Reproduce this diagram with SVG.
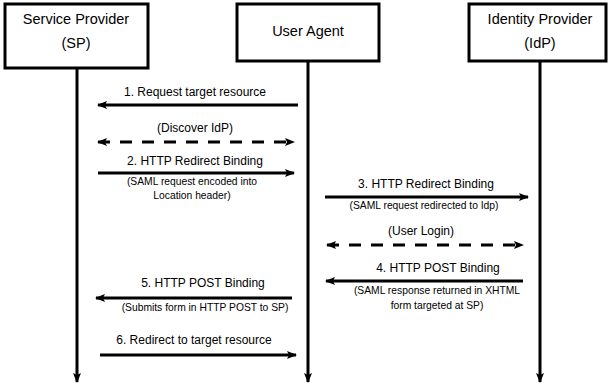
<svg xmlns="http://www.w3.org/2000/svg" width="608" height="391" viewBox="0 0 608 391">
<defs>
<marker id="ah" markerWidth="10" markerHeight="8" refX="9" refY="4" orient="auto-start-reverse" markerUnits="userSpaceOnUse">
<path d="M0,0 L10,4 L0,8 L2,4 Z" fill="#000"/>
</marker>
<style>
.box{fill:#fff;stroke:#000;stroke-width:3}
.life{stroke:#000;stroke-width:3;fill:none}
.msg{stroke:#000;stroke-width:3;fill:none}
.dash{stroke-dasharray:12 10}
.h{font-family:"Liberation Sans",Arial,sans-serif;font-size:14.5px;fill:#000;text-anchor:middle}
.t{font-family:"Liberation Sans",Arial,sans-serif;font-size:12px;fill:#000;text-anchor:middle}
.s{font-family:"Liberation Sans",Arial,sans-serif;font-size:10.3px;fill:#000;text-anchor:middle}
</style>
</defs>
<rect width="608" height="391" fill="#fff"/>
<g id="connectors">
<line class="life" x1="77" y1="68" x2="77" y2="382" marker-end="url(#ah)"/>
<line class="life" x1="308" y1="61" x2="308" y2="382" marker-end="url(#ah)"/>
<line class="life" x1="540" y1="61" x2="540" y2="382" marker-end="url(#ah)"/>
<line class="msg" x1="298" y1="105" x2="98" y2="105" marker-end="url(#ah)"/>
<line class="msg dash" x1="98" y1="142" x2="294" y2="142" marker-start="url(#ah)" marker-end="url(#ah)"/>
<line class="msg" x1="98" y1="173" x2="294" y2="173" marker-end="url(#ah)"/>
<line class="msg" x1="325" y1="197" x2="528" y2="197" marker-end="url(#ah)"/>
<line class="msg dash" x1="327" y1="245" x2="523" y2="245" marker-start="url(#ah)" marker-end="url(#ah)"/>
<line class="msg" x1="523" y1="281" x2="326" y2="281" marker-end="url(#ah)"/>
<line class="msg" x1="292" y1="298" x2="96" y2="298" marker-end="url(#ah)"/>
<line class="msg" x1="100" y1="355" x2="296" y2="355" marker-end="url(#ah)"/>
</g>
<g id="sp">
<rect class="box" x="5" y="4" width="143" height="64"/>
<text class="h" x="76" y="24">Service Provider</text>
<text class="h" x="76" y="48">(SP)</text>
</g>
<g id="ua">
<rect class="box" x="237" y="4" width="142" height="57"/>
<text class="h" x="308" y="36">User Agent</text>
</g>
<g id="idp">
<rect class="box" x="469" y="4" width="137" height="57"/>
<text class="h" x="540" y="24">Identity Provider</text>
<text class="h" x="540" y="48">(IdP)</text>
</g>
<g id="labels">
<text class="t" x="195" y="96">1. Request target resource</text>
<text class="t" x="195" y="132">(Discover IdP)</text>
<text class="t" x="195" y="165">2. HTTP Redirect Binding</text>
<text class="s" x="192" y="185">(SAML request encoded into</text>
<text class="s" x="192" y="199">Location header)</text>
<text class="t" x="426" y="188">3. HTTP Redirect Binding</text>
<text class="s" x="424" y="209">(SAML request redirected to Idp)</text>
<text class="t" x="421" y="235">(User Login)</text>
<text class="t" x="438" y="272">4. HTTP POST Binding</text>
<text class="s" x="437" y="294">(SAML response returned in XHTML</text>
<text class="s" x="437" y="309">form targeted at SP)</text>
<text class="t" x="203" y="287">5. HTTP POST Binding</text>
<text class="s" x="205" y="311">(Submits form in HTTP POST to SP)</text>
<text class="t" x="194" y="344">6. Redirect to target resource</text>
</g>
</svg>
